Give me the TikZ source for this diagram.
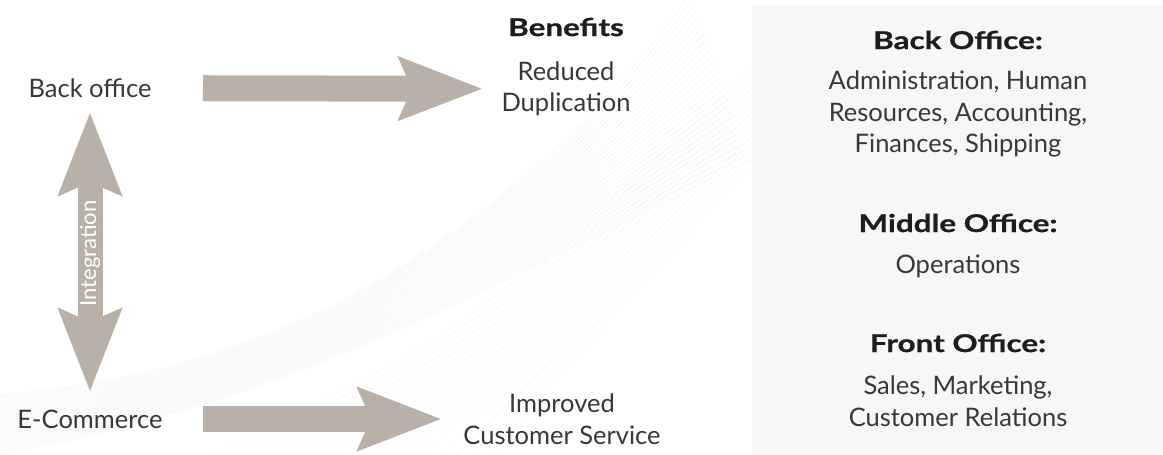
\documentclass[tikz,border=0pt]{standalone}
\usepackage{fontspec}
\setmainfont{Lato}
\newfontfamily\headfont{Lato}[FakeStretch=1.28, BoldFeatures={FakeBold=0.8}]
\usetikzlibrary{arrows.meta}
\definecolor{taupe}{RGB}{185,177,167}
\definecolor{panelgray}{RGB}{248,247,245}
\definecolor{ink}{RGB}{30,28,29}
\definecolor{softink}{RGB}{58,55,56}
\tikzset{txt/.style={inner sep=0pt, align=center, text=softink, font=\fontsize{25.5}{31.5}\selectfont},
         head/.style={inner sep=0pt, text=ink, font=\headfont\bfseries\fontsize{24.5}{30}\selectfont},
         bigarrow/.style={draw=taupe, line width=26pt, -{Stealth[length=83pt, width=61pt, inset=12pt]}},
         dblarrow/.style={draw=taupe, line width=25pt, {Stealth[length=82pt, width=61pt, inset=12pt]}-{Stealth[length=82pt, width=61pt, inset=12pt]}},
         swoosh/.style={draw=black!6, line width=0.45pt},
         faintswoosh/.style={draw=black!4, line width=0.4pt},
        }
\begin{document}
\begin{tikzpicture}[x=1pt,y=-1pt]
        \useasboundingbox (0,0) rectangle (1163,455);
        \foreach \i in {0,...,30}
            \draw[swoosh] (-5,395+2*\i) .. controls (300,372+\i) and (520,225+1.5*\i) .. (690+2*\i,-5+5.5*\i);
        \foreach \i in {0,...,16}
            \draw[faintswoosh] (200+18*\i,460) .. controls (470+8*\i,330) .. (752,70+6*\i);
        \fill[panelgray] (752,5) rectangle (1163,455);

        \node[head](ben)at(566,27){Benefits};
        \node[txt](back)at(90,88){Back office};
        \node[txt](dup)at(566,89){Reduced\\Duplication};
        \node[txt](ecom)at(90,419){E-Commerce};
        \node[txt](imp)at(562,419){Improved\\Customer Service};

        \draw[bigarrow, shorten <=113pt, shorten >=83pt](back.center)--(dup.center);
        \draw[bigarrow, shorten <=113pt, shorten >=120pt](ecom.center)--(imp.center);
        \draw[dblarrow, shorten <=24pt, shorten >=27pt](back.center)--(ecom.center)
            node[midway, rotate=90, inner sep=0pt, text=white, font=\fontsize{22}{26}\selectfont](integ){Integration};

        \node[head](bohd)at(958,40){Back Office:};
        \node[txt](botx)at(958,114){Administration, Human\\Resources, Accounting,\\Finances, Shipping};
        \node[head](mohd)at(958,223){Middle Office:};
        \node[txt](motx)at(958,266){Operations};
        \node[head](fohd)at(958,343){Front Office:};
        \node[txt](fotx)at(958,401){Sales, Marketing,\\Customer Relations};
\end{tikzpicture}
\end{document}
